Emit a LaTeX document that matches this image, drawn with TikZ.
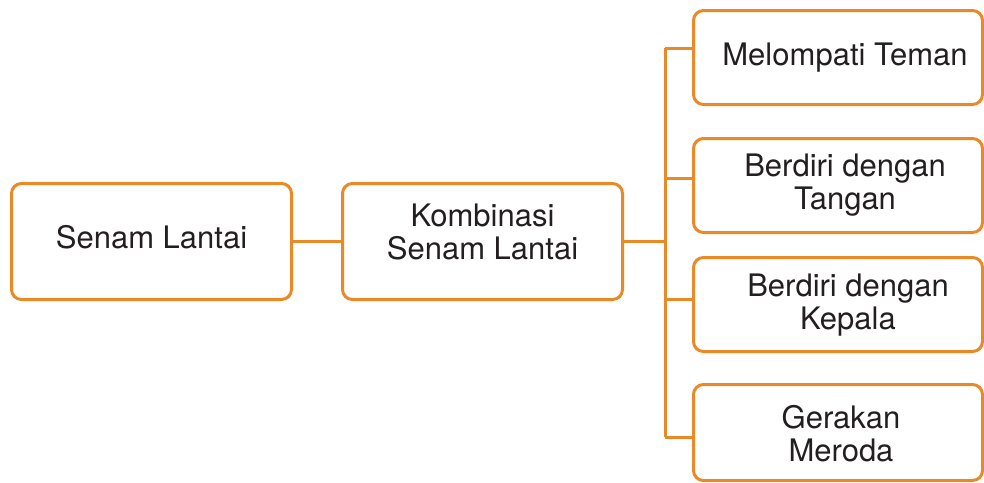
\documentclass[tikz,border=0pt]{standalone}
\usepackage{fontspec}
\setmainfont{TeX Gyre Heros}
\definecolor{lineor}{RGB}{233,138,38}
\definecolor{txtc}{RGB}{35,31,32}
\begin{document}
\begin{tikzpicture}[x=1pt,y=-1pt,
  box/.style={draw=lineor,line width=3pt,rounded corners=10pt,fill=white,inner sep=0pt},
  lbl/.style={text=txtc,align=center,inner sep=0pt,font=\fontsize{31}{33}\selectfont},
  conn/.style={draw=lineor,line width=3pt}]
\useasboundingbox (0,0) rectangle (984,482);
% main boxes
\node[box,minimum width=280pt,minimum height=116pt] (a) at (151.5,241.5) {};
\node[box,minimum width=280pt,minimum height=116pt] (b) at (482.5,241.5) {};
% right boxes
\node[box,minimum width=289pt,minimum height=94pt] (r1) at (838,57.5) {};
\node[box,minimum width=289pt,minimum height=94pt] (r2) at (838,185.5) {};
\node[box,minimum width=289pt,minimum height=94pt] (r3) at (838,304.5) {};
\node[box,minimum width=289pt,minimum height=96pt] (r4) at (838,432.5) {};
% labels
\node[lbl] (ta) at (151.5,237.5) {Senam Lantai};
\node[lbl] (tb) at (482.5,231.5) {Kombinasi\\Senam Lantai};
\node[lbl] (t1) at (845,57.5) {Melompati Teman};
\node[lbl] (t2) at (845,185) {Berdiri dengan\\Tangan};
\node[lbl] (t3) at (848,305) {Berdiri dengan\\Kepala};
\node[lbl] (t4) at (841,433.5) {Gerakan\\Meroda};
% connectors
\coordinate (hub) at (665,241.5);
\coordinate (j1) at (665,48);
\coordinate (j2) at (665,178);
\coordinate (j3) at (665,299);
\coordinate (j4) at (665,437);
\draw[conn] (a.east) -- (b.west);
\draw[conn] (b.east) -- (hub);
\draw[conn] (j1) -- (j4);
\draw[conn] (j1) -- (j1 -| r1.west);
\draw[conn] (j2) -- (j2 -| r2.west);
\draw[conn] (j3) -- (j3 -| r3.west);
\draw[conn] (j4) -- (j4 -| r4.west);
\end{tikzpicture}
\end{document}
